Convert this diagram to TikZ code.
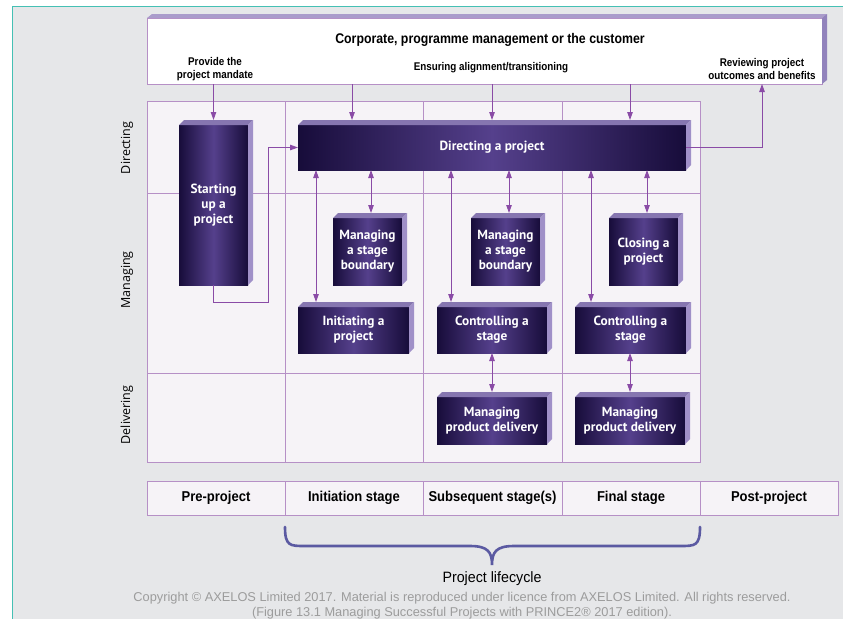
\documentclass[tikz,border=0pt]{standalone}
\usepackage{fontspec}
\setmainfont{Liberation Sans}
\newfontfamily\condf[FakeStretch=0.88]{Liberation Sans}
\newfontfamily\condg[FakeStretch=0.91]{Liberation Sans}
\newfontfamily\condh[FakeStretch=0.95]{Liberation Sans}
\newfontfamily\boxf{PT Sans}
\newfontfamily\rowf{Open Sans}
\usetikzlibrary{arrows.meta}
\definecolor{bggrey}{HTML}{E6E7E9}
\definecolor{teal}{HTML}{45C0B4}
\definecolor{gridfill}{HTML}{F6F3F7}
\definecolor{gridline}{HTML}{B690C6}
\definecolor{arrcol}{HTML}{8A4BA6}
\definecolor{boxdark}{HTML}{170C3A}
\definecolor{boxmid}{HTML}{55408C}
\definecolor{bevtopc}{HTML}{8676B0}
\definecolor{bevrightc}{HTML}{A090C8}
\definecolor{corptop}{HTML}{AA9CCB}
\definecolor{corpright}{HTML}{9283BC}
\definecolor{bracecol}{HTML}{5B5AA2}
\definecolor{copygrey}{HTML}{9C9C9C}
\begin{document}
\begin{tikzpicture}[x=1pt,y=-1pt,
  procbox/.style={left color=boxdark,right color=boxdark,middle color=boxmid,
    text=white,font=\boxf\bfseries\fontsize{13.3}{15}\selectfont,align=center,
    inner sep=0pt,outer sep=0pt},
  arr/.style={draw=arrcol,line width=0.9pt,-{Triangle[length=8pt,width=5.5pt]}},
  darr/.style={draw=arrcol,line width=0.9pt,{Triangle[length=8pt,width=5.5pt]}-{Triangle[length=8pt,width=5.5pt]}},
  gline/.style={draw=gridline,line width=0.9pt},
  stagecell/.style={draw=gridline,line width=0.9pt,fill=gridfill,minimum height=34pt,
    inner sep=0pt,outer sep=0pt,font=\condg\bfseries\fontsize{14.3}{16}\selectfont},
  rowlab/.style={rotate=90,font=\rowf\fontsize{12.5}{14}\selectfont},
  smalllab/.style={font=\condf\bfseries\fontsize{11.2}{13}\selectfont,align=center},
  bevtop/.style={fill=bevtopc},
  bevright/.style={fill=bevrightc}
]
\useasboundingbox (0,0) rectangle (843,619);
\fill[white] (0,0) rectangle (843,619);
\fill[bggrey] (12,6) rectangle (843,619);
\draw[teal,line width=1pt] (12,619) -- (12,6) -- (843,6);

% top box
\node[draw=gridline,line width=0.9pt,fill=white,minimum width=675pt,minimum height=66pt,
  inner sep=0pt,outer sep=0pt] (corp) at (484.5,51) {};
\fill[corptop] (corp.north west) -- ([shift={(5pt,4pt)}]corp.north west) -- ([shift={(5pt,4pt)}]corp.north east) -- (corp.north east) -- cycle;
\fill[corpright] (corp.north east) -- ([shift={(5pt,4pt)}]corp.north east) -- ([shift={(5pt,4pt)}]corp.south east) -- (corp.south east) -- cycle;
\node[font=\condf\bfseries\fontsize{14}{16}\selectfont] (corptitle) at (490,40) {Corporate, programme management or the customer};
\node[smalllab] (mandate) at (215,69) {Provide the\\project mandate};
\node[smalllab] (align) at (491,68) {Ensuring alignment/transitioning};
\node[smalllab] (review) at (762,69) {Reviewing project\\outcomes and benefits};

% grid
\draw[gline,fill=gridfill] (147,101) rectangle (700,462);
\draw[gline] (147,193) -- (700,193);
\draw[gline] (147,373) -- (700,373);
\draw[gline] (285,101) -- (285,462);
\draw[gline] (423,101) -- (423,462);
\draw[gline] (562,101) -- (562,462);

% row labels
\node[rowlab] (rdir) at (127,148) {Directing};
\node[rowlab] (rman) at (127,280) {Managing};
\node[rowlab] (rdel) at (127,415) {Delivering};

% process boxes
\node[procbox,minimum width=69pt,minimum height=160pt] (su) at (213.5,205) {Starting\\up a\\project};
\node[procbox,minimum width=388pt,minimum height=45pt] (dp) at (492,147.5) {Directing a project};
\node[procbox,minimum width=69pt,minimum height=67pt] (msb1) at (367.5,251.5) {Managing\\a stage\\boundary};
\node[procbox,minimum width=111pt,minimum height=46pt] (ip) at (353.5,330) {Initiating a\\project};
\node[procbox,minimum width=69pt,minimum height=67pt] (msb2) at (505.5,251.5) {Managing\\a stage\\boundary};
\node[procbox,minimum width=110pt,minimum height=46pt] (cs1) at (492,330) {Controlling a\\stage};
\node[procbox,minimum width=69pt,minimum height=67pt] (cp) at (643.5,251.5) {Closing a\\project};
\node[procbox,minimum width=111pt,minimum height=46pt] (cs2) at (630.5,330) {Controlling a\\stage};
\node[procbox,minimum width=110pt,minimum height=47pt] (mpd1) at (492,420.5) {Managing\\product delivery};
\node[procbox,minimum width=110pt,minimum height=47pt] (mpd2) at (630,420.5) {Managing\\product delivery};
\foreach \n in {su,dp,msb1,ip,msb2,cs1,cp,cs2,mpd1,mpd2}{
  \fill[bevtop] (\n.north west) -- ([shift={(5pt,5pt)}]\n.north west) -- ([shift={(5pt,5pt)}]\n.north east) -- (\n.north east) -- cycle;
  \fill[bevright] (\n.north east) -- ([shift={(5pt,5pt)}]\n.north east) -- ([shift={(5pt,5pt)}]\n.south east) -- (\n.south east) -- cycle;
}

% connectors from corporate box
\draw[arr] (su.north |- corp.south) -- ([yshift=5pt]su.north);
\draw[arr] ([xshift=-140pt]dp.north |- corp.south) -- ([xshift=-140pt,yshift=5pt]dp.north);
\draw[arr] (dp.north |- corp.south) -- ([yshift=5pt]dp.north);
\draw[arr] ([xshift=138pt]dp.north |- corp.south) -- ([xshift=138pt,yshift=5pt]dp.north);
\draw[arr] (dp.east) -| ([xshift=-60pt]corp.south east);
\draw[arr] (su.south) -- ++(0,17) -| ([xshift=-30pt]dp.west) -- (dp.west);

% two-way connectors
\draw[darr] ([xshift=18pt]ip.north west |- dp.south) -- ([xshift=18pt,yshift=5pt]ip.north west);
\draw[darr] ([xshift=3.5pt]msb1.north |- dp.south) -- ([xshift=3.5pt,yshift=5pt]msb1.north);
\draw[darr] ([xshift=14pt]cs1.north west |- dp.south) -- ([xshift=14pt,yshift=5pt]cs1.north west);
\draw[darr] ([xshift=3.5pt]msb2.north |- dp.south) -- ([xshift=3.5pt,yshift=5pt]msb2.north);
\draw[darr] ([xshift=16pt]cs2.north west |- dp.south) -- ([xshift=16pt,yshift=5pt]cs2.north west);
\draw[darr] ([xshift=3.5pt]cp.north |- dp.south) -- ([xshift=3.5pt,yshift=5pt]cp.north);
\draw[darr] (cs1.south) -- ([yshift=5pt]mpd1.north);
\draw[darr] (cs2.south -| mpd2.north) -- ([yshift=5pt]mpd2.north);

% stage bar
\node[stagecell,minimum width=138pt] (pre) at (216,498) {Pre-project};
\node[stagecell,minimum width=138pt] (init) at (354,498) {Initiation stage};
\node[stagecell,minimum width=139pt] (subs) at (492.5,498) {Subsequent stage(s)};
\node[stagecell,minimum width=138pt] (fin) at (631,498) {Final stage};
\node[stagecell,minimum width=138pt] (post) at (769,498) {Post-project};

% brace
\draw[bracecol,line width=2.6pt,line cap=round]
  (285,527) .. controls (285,546) and (290,546) .. (305,546) -- (470,546)
  .. controls (488,546) and (492,552) .. (492,565)
  .. controls (492,552) and (496,546) .. (514,546) -- (680,546)
  .. controls (695,546) and (700,546) .. (700,527);
\node[font=\condh\fontsize{15}{17}\selectfont] (life) at (492,579) {Project lifecycle};
\node[font=\fontsize{12.8}{15}\selectfont,text=copygrey,align=center] (copy) at (462,605.5)
  {Copyright © AXELOS Limited 2017. Material is reproduced under licence from AXELOS Limited. All rights reserved.\\(Figure 13.1 Managing Successful Projects with PRINCE2® 2017 edition).};
\end{tikzpicture}
\end{document}
